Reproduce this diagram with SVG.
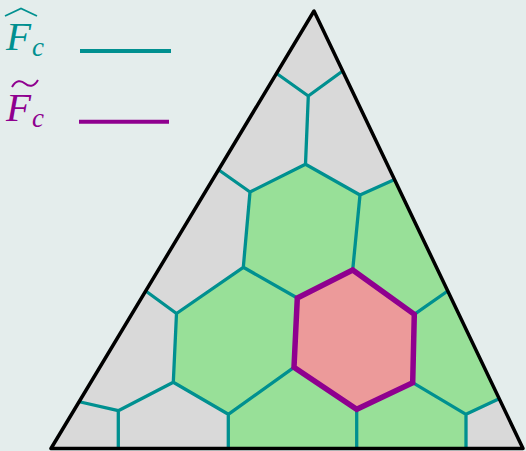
<svg xmlns="http://www.w3.org/2000/svg" width="526" height="451" viewBox="0 0 526 451">
<style>
.sym{font-family:"Liberation Serif","DejaVu Serif",serif;font-style:italic}
.teal{fill:#009090}
.purp{fill:#8f008f}
.edge{fill:none;stroke:#009090;stroke-width:3.3;stroke-linejoin:round;stroke-linecap:butt}
.green{fill:#98e098;stroke:none}
</style>
<defs>
<clipPath id="tri"><polygon points="314,11 51,448.5 523,448.5"/></clipPath>
</defs>
<rect width="526" height="451" fill="#e4edec"/>
<g id="legend">
<g id="legend-hat">
<text class="sym teal" x="6" y="50" font-size="41">F</text>
<text class="sym teal" x="32" y="56" font-size="27">c</text>
<path d="M5,16 L21,8.5 L37,16" fill="none" stroke="#009090" stroke-width="1.8"/>
<line x1="80" y1="51" x2="171" y2="51" stroke="#009090" stroke-width="4"/>
</g>
<g id="legend-tilde">
<text class="sym purp" x="6" y="121" font-size="41">F</text>
<text class="sym purp" x="32" y="127" font-size="27">c</text>
<path d="M12,87 C16,80 21,80 25,83.5 C29,87 34,87 38,80" fill="none" stroke="#8f008f" stroke-width="2"/>
<line x1="79" y1="121.7" x2="169" y2="121.7" stroke="#8f008f" stroke-width="4"/>
</g>
</g>
<g id="triangle-fill">
<polygon points="314,11 51,448.5 523,448.5" fill="#d9d9d9"/>
</g>
<g id="cells" clip-path="url(#tri)">
<polygon id="cell-top-hex" class="green" points="250,192 305.5,164.3 360,195 352.7,270 297.3,298 243.3,267.3"/>
<polygon id="cell-right-top" class="green" points="360,195 400,178 455,290 414.3,314.3 352.7,270"/>
<polygon id="cell-right-low" class="green" points="414.3,314.3 455,286 508,396 466,414.3 412.7,382.7"/>
<polygon id="cell-left-hex" class="green" points="243.3,267.3 297.3,298 294,367.3 228.3,414.3 173.3,382.3 176.5,313.5"/>
<polygon id="cell-bottom" class="green" points="294,367.3 356.7,409.3 356.7,450 228.3,450 228.3,414.3"/>
<polygon id="cell-bottom-right" class="green" points="356.7,409.3 412.7,382.7 466,414.3 466,450 356.7,450"/>
<polygon id="cell-center" points="352.7,270 414.3,314.3 412.7,382.7 356.7,409.3 294,367.3 297.3,298" fill="#ec9a9a"/>
</g>
<g id="connectors" clip-path="url(#tri)">
<path class="edge" d="M276,73 L308.3,96 L344,70 M308.3,96 L305.5,164.3 L250,192 L216,168 M305.5,164.3 L360,195 L398,178 M250,192 L243.3,267.3 L297.3,298 M243.3,267.3 L176.5,313.5 L143,289 M360,195 L352.7,270 M176.5,313.5 L173.3,382.3 L228.3,414.3 L294,367.3 M173.3,382.3 L118.3,410.7 L76,401 M118.3,410.7 L118.3,450 M228.3,414.3 L228.3,450 M356.7,409.3 L356.7,450 M414.3,314.3 L452,288 M412.7,382.7 L466,414.3 L505,396 M466,414.3 L466,450"/>
<polygon id="center-outline" points="352.7,270 414.3,314.3 412.7,382.7 356.7,409.3 294,367.3 297.3,298" fill="none" stroke="#8f008f" stroke-width="5.5" stroke-linejoin="miter"/>
</g>
<g id="triangle-outline">
<polygon points="314,11 51,448.5 523,448.5" fill="none" stroke="#000" stroke-width="3.5" stroke-linejoin="round"/>
</g>
</svg>
